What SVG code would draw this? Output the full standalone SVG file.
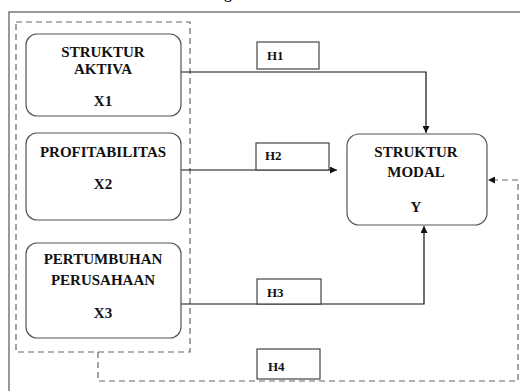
<svg xmlns="http://www.w3.org/2000/svg" width="520" height="391" viewBox="0 0 520 391">
<style>
.t{font-family:"Liberation Serif","Times New Roman",serif;font-weight:bold;font-size:15px;fill:#111;text-anchor:middle}
.h{font-family:"Liberation Serif","Times New Roman",serif;font-weight:bold;font-size:13px;fill:#111}
.node{fill:#fff;stroke:#555;stroke-width:1.2}
.hb{fill:#fff;stroke:#444;stroke-width:1.2}
.c{fill:none;stroke:#111;stroke-width:1.2}
.d{fill:none;stroke:#666;stroke-width:1.2;stroke-dasharray:6 4}
</style>
<defs>
<marker id="ah" viewBox="0 0 10 10" refX="10" refY="5" markerWidth="7" markerHeight="7" markerUnits="userSpaceOnUse" orient="auto">
<path d="M0,0 L10,5 L0,10 z" fill="#111"/>
</marker>
</defs>
<rect width="520" height="391" fill="#fff"/>
<text class="t" x="228" y="-1">g</text>
<rect x="9" y="12" width="520" height="390" fill="none" stroke="#555" stroke-width="1.2"/>
<rect class="d" x="16" y="22" width="174" height="330"/>
<g id="connectors">
<polyline class="c" points="181,72 426,72 426,133" marker-end="url(#ah)"/>
<line class="c" x1="181" y1="170" x2="337" y2="170" marker-end="url(#ah)"/>
<polyline class="c" points="181,304 424,304 424,226" marker-end="url(#ah)"/>
<polyline class="d" points="98,352 98,381 518,381 518,180 488,180" marker-end="url(#ah)"/>
</g>
<g id="X1">
<rect class="node" x="26" y="34" width="155" height="82" rx="11"/>
<text class="t" x="103" y="57">STRUKTUR</text>
<text class="t" x="103" y="74">AKTIVA</text>
<text class="t" x="103" y="106">X1</text>
</g>
<g id="X2">
<rect class="node" x="26" y="133" width="155" height="87" rx="11"/>
<text class="t" x="103" y="157">PROFITABILITAS</text>
<text class="t" x="103" y="189">X2</text>
</g>
<g id="X3">
<rect class="node" x="26" y="243" width="155" height="95" rx="11"/>
<text class="t" x="103" y="264">PERTUMBUHAN</text>
<text class="t" x="103" y="285">PERUSAHAAN</text>
<text class="t" x="103" y="318">X3</text>
</g>
<g id="Y">
<rect class="node" x="347" y="134" width="140" height="91" rx="12"/>
<text class="t" x="416" y="157">STRUKTUR</text>
<text class="t" x="416" y="177">MODAL</text>
<text class="t" x="416" y="212">Y</text>
</g>
<g id="H1">
<rect class="hb" x="257" y="42" width="62" height="27"/>
<text class="h" x="267" y="60">H1</text>
</g>
<g id="H2">
<rect class="hb" x="256" y="143" width="73" height="27"/>
<text class="h" x="265" y="160">H2</text>
</g>
<g id="H3">
<rect class="hb" x="257" y="279" width="64" height="25"/>
<text class="h" x="267" y="297">H3</text>
</g>
<g id="H4">
<rect class="hb" x="257" y="349" width="63" height="30"/>
<text class="h" x="268" y="371">H4</text>
</g>
</svg>
